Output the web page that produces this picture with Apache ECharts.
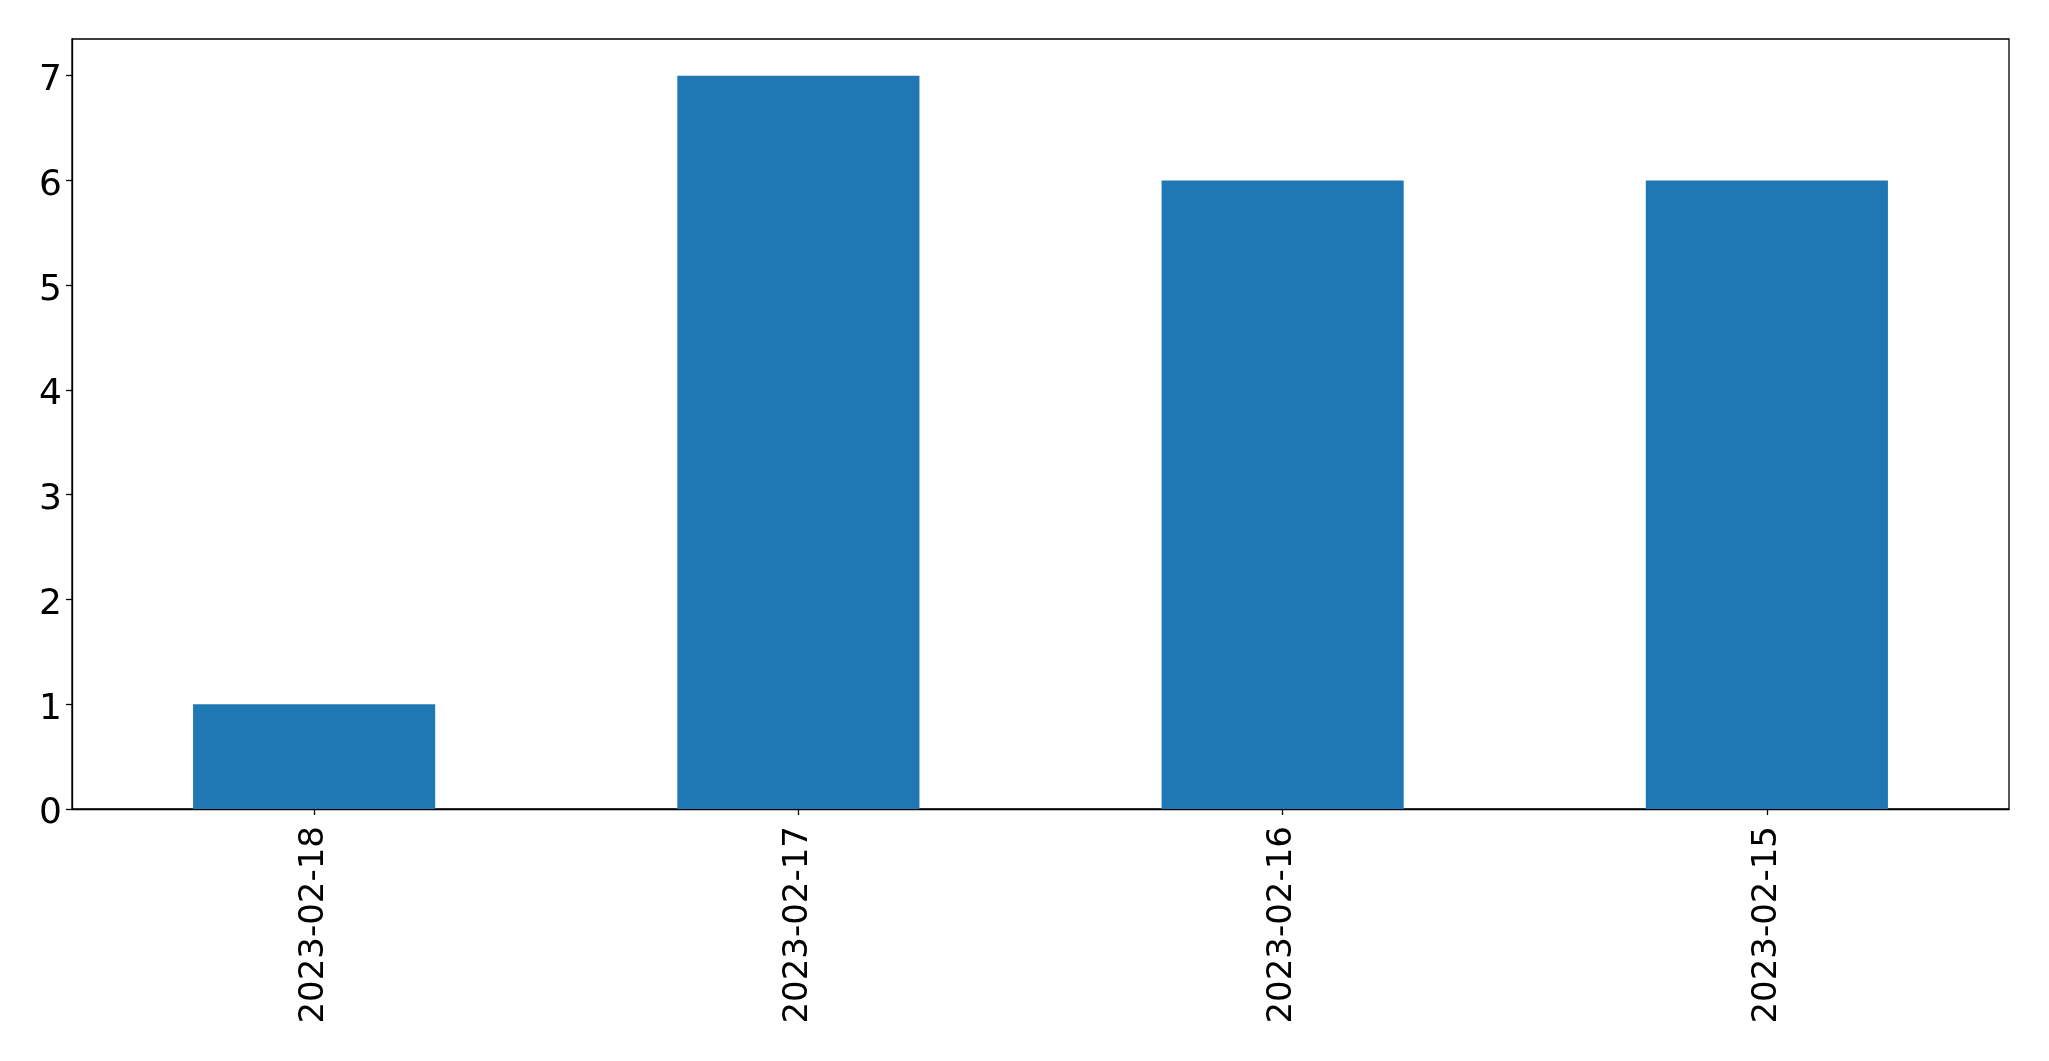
<!DOCTYPE html>
<html>
<head>
<meta charset="utf-8">
<script src="https://cdn.jsdelivr.net/npm/echarts@6/dist/echarts.min.js"></script>
<style>
html,body{margin:0;padding:0;background:#fff;}
#chart{width:2049px;height:1061px;}
</style>
</head>
<body>
<div id="chart"></div>
<script>
const categories = ['2023-02-18', '2023-02-17', '2023-02-16', '2023-02-15'];
const values = [1, 7, 6, 6];
const yTicks = [0, 1, 2, 3, 4, 5, 6, 7];
const yMax = 7.35;

const chart = echarts.init(document.getElementById('chart'), null, {renderer: 'canvas'});
const font = 'DejaVu Sans';
chart.setOption({
  animation: false,
  backgroundColor: '#ffffff',
  grid: {
    left: 72, right: 40, top: 39, bottom: 252,
    show: true, borderColor: '#000', borderWidth: 1.3,
    containLabel: false
  },
  xAxis: {
    type: 'category',
    data: categories,
    boundaryGap: true,
    axisLine: {show: true, lineStyle: {color: '#000', width: 1.3}},
    axisTick: {show: true, alignWithLabel: true, length: 6, lineStyle: {color: '#000', width: 1.3}},
    axisLabel: {
      rotate: 90, margin: 17, color: '#000',
      fontFamily: font, fontSize: 34, interval: 0
    },
    splitLine: {show: false}
  },
  yAxis: {
    type: 'value',
    min: 0, max: yMax, interval: 1,
    axisLine: {show: true, lineStyle: {color: '#000', width: 1.3}},
    axisTick: {show: true, length: 6, customValues: yTicks, lineStyle: {color: '#000', width: 1.3}},
    axisLabel: {
      customValues: yTicks,
      margin: 10, color: '#000', fontFamily: font, fontSize: 36,
      formatter: v => '{a|' + v + '}',
      rich: {a: {fontFamily: font, fontSize: 36, color: '#000', padding: [10, 0, 0, 0]}}
    },
    splitLine: {show: false}
  },
  series: [{
    type: 'bar',
    data: values,
    barWidth: '50%',
    itemStyle: {color: '#1f77b4'}
  }]
});
</script>
</body>
</html>
